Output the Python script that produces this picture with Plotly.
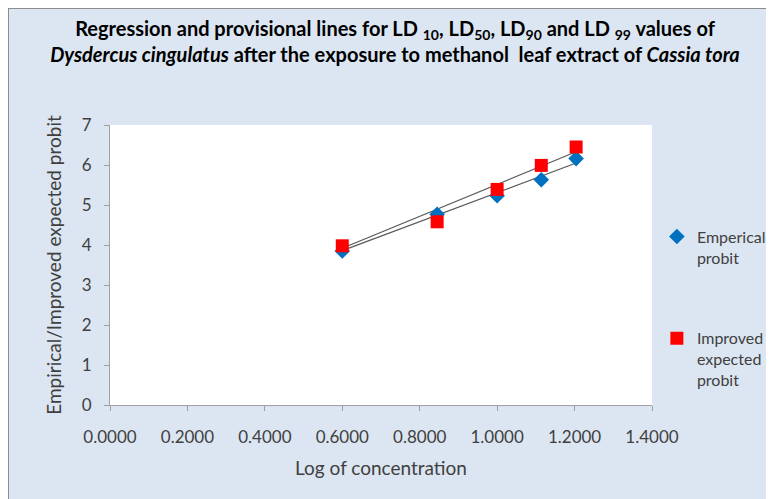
import plotly.graph_objects as go

# Data
log_conc = [0.6, 0.845, 1.0, 1.114, 1.204]
empirical_probit = [3.85, 4.77, 5.23, 5.63, 6.16]
improved_probit = [3.98, 4.58, 5.39, 5.99, 6.45]

# Regression (provisional) line endpoints
line_x = [0.6, 1.204]
empirical_line = [3.86, 6.05]
improved_line = [3.92, 6.33]

x_ticks = [0, 0.2, 0.4, 0.6, 0.8, 1.0, 1.2, 1.4]
x_tick_labels = ["0.0000", "0.2000", "0.4000", "0.6000", "0.8000", "1.0000", "1.2000", "1.4000"]
y_ticks = [0, 1, 2, 3, 4, 5, 6, 7]

FONT = "Lato, Open Sans, sans-serif"
TXT = "#404040"
BG = "#dce6f2"

fig = go.Figure()

fig.add_trace(go.Scatter(x=line_x, y=empirical_line, mode="lines",
                         line=dict(color="rgba(60,60,60,0.85)", width=1.2),
                         showlegend=False, hoverinfo="skip"))
fig.add_trace(go.Scatter(x=line_x, y=improved_line, mode="lines",
                         line=dict(color="rgba(60,60,60,0.85)", width=1.2),
                         showlegend=False, hoverinfo="skip"))

fig.add_trace(go.Scatter(x=log_conc, y=empirical_probit, mode="markers",
                         name="Emperical<br>probit",
                         marker=dict(symbol="diamond", size=12, color="#0070c0"),
                         legendgroup="a"))
fig.add_trace(go.Scatter(x=log_conc, y=improved_probit, mode="markers",
                         name="Improved<br>expected<br>probit",
                         marker=dict(symbol="square", size=13, color="#ff0000"),
                         legendgroup="b"))

fig.update_layout(
    width=774, height=499,
    margin=dict(l=102, r=130, t=117, b=102, autoexpand=False),
    paper_bgcolor=BG,
    plot_bgcolor="white",
    font=dict(family=FONT, size=17, color=TXT),
    title=dict(
        text=("<b>Regression and provisional lines for LD <sub>10</sub>, LD<sub>50</sub>, "
              "LD<sub>90</sub> and LD <sub>99</sub> values of<br>"
              "<i>Dysdercus cingulatus</i> after the exposure to methanol  leaf extract of "
              "<i>Cassia tora</i></b>"),
        x=0.5, xanchor="center", y=0.944, yanchor="top",
        font=dict(family=FONT, size=20, color="#000000"),
    ),
    xaxis=dict(
        range=[0, 1.4], tickvals=x_ticks, ticktext=x_tick_labels,
        showline=True, linecolor="#a0a0a0", linewidth=1,
        ticks="outside", ticklen=5, tickcolor="#a0a0a0",
        showgrid=False, zeroline=False, ticklabelstandoff=12,
        tickfont=dict(size=17, color=TXT),
        title=dict(text="Log of concentration", font=dict(size=19, color=TXT), standoff=15),
    ),
    yaxis=dict(
        range=[0, 7], tickvals=y_ticks,
        showline=True, linecolor="#a0a0a0", linewidth=1,
        ticks="outside", ticklen=5, tickcolor="#a0a0a0",
        showgrid=False, zeroline=False, ticklabelstandoff=9,
        tickfont=dict(size=17, color=TXT),
        title=dict(text="Empirical/Improved expected probit", font=dict(size=19, color=TXT), standoff=15),
    ),
    legend=dict(
        x=1.009, xanchor="left", y=0.662, yanchor="top", valign="top",
        bgcolor="rgba(0,0,0,0)", font=dict(size=16, color=TXT),
        tracegroupgap=57, itemwidth=30,
    ),
    shapes=[
        dict(type="line", xref="paper", yref="paper", x0=-0.1882, x1=1.3, y0=1.4179, y1=1.4179,
             line=dict(color="#8c8c8c", width=2), layer="above"),
        dict(type="line", xref="paper", yref="paper", x0=-0.1882, x1=-0.1882, y0=-0.5, y1=1.4179,
             line=dict(color="#8c8c8c", width=2), layer="above"),
    ],
)

fig.write_html("out.html")
